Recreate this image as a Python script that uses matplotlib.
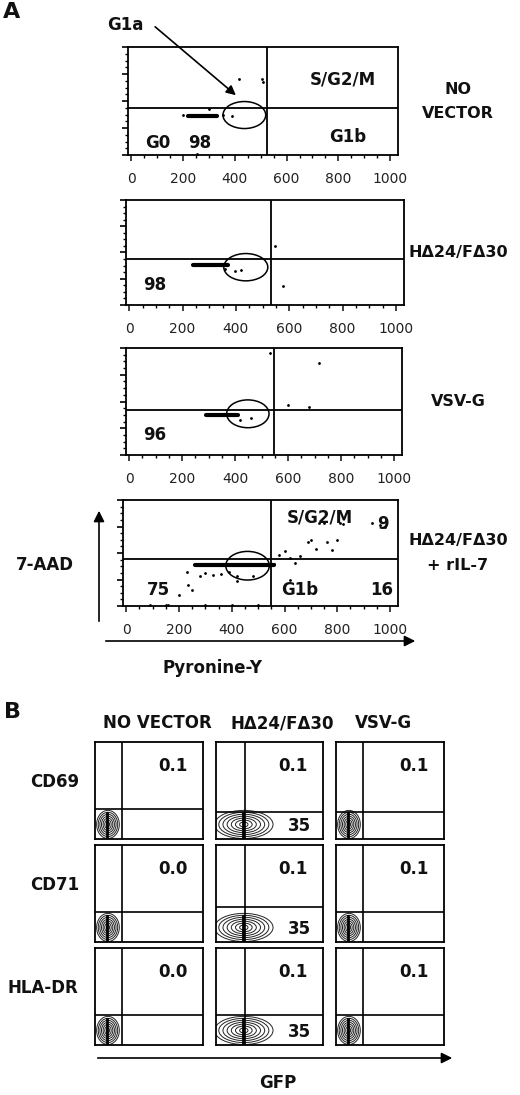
import matplotlib
matplotlib.use('Agg')
import matplotlib.pyplot as plt
from matplotlib.patches import Ellipse
from matplotlib.ticker import MultipleLocator

W, H = 520, 1095
plt.rcParams['font.family'] = ['DejaVu Sans']
BOLD = dict(fontweight='bold', color='#111')

# ---- panel A data (x: Pyronine-Y 0-1000, y: 7-AAD in 0-1000 plot units) ----
a_ticks = [0, 200, 400, 600, 800, 1000]
a_names = [['NO', 'VECTOR'], ['H\u039424/F\u039430'], ['VSV-G'], ['H\u039424/F\u039430', '+ rIL-7']]
a_vline = [525, 530, 545, 550]
a_hline = [435, 440, 420, 440]
a_gate = [(437, 370, 165, 250), (437, 360, 165, 260), (448, 385, 160, 260), (460, 380, 165, 270)]
# cluster spans (x0, x1, y)
a_cluster = [(220, 330, 360), (240, 370, 380), (290, 410, 375), (260, 560, 385)]
a_scatter_x = [
    [200, 355, 390, 415, 505, 510, 300, 255],
    [360, 395, 420, 545, 575],
    [530, 600, 680, 715, 460, 420],
    [200, 230, 235, 250, 280, 300, 330, 360, 390, 420, 560, 580, 600, 620, 640, 660, 690, 700, 720,
     730, 750, 760, 780, 800, 810, 820, 930, 960, 980, 620, 480, 420, 150, 90, 300, 400, 500, 160],
]
a_scatter_y = [
    [370, 375, 360, 700, 700, 680, 430, 10],
    [340, 320, 330, 560, 180],
    [950, 470, 450, 860, 350, 330],
    [100, 320, 200, 150, 280, 310, 290, 300, 320, 280, 400, 480, 520, 450, 410, 470, 600, 620, 540,
     780, 780, 600, 530, 620, 780, 770, 780, 760, 750, 250, 280, 240, 5, 5, 5, 5, 5, 5],
]
a_boxes = [(128, 47, 398, 155), (126, 200, 404, 305), (126, 348, 402, 455), (123, 500, 398, 606)]

# ---- panel B data ----
b_cols = ['NO VECTOR', 'H\u039424/F\u039430', 'VSV-G']
b_rows = ['CD69', 'CD71', 'HLA-DR']
b_upper = [['0.1', '0.1', '0.1'], ['0.0', '0.1', '0.1'], ['0.0', '0.1', '0.1']]
b_lower = [['', '35', ''], ['', '35', ''], ['', '35', '']]
b_vline = [0.25, 0.27, 0.25]
b_hline = [[0.31, 0.28, 0.28], [0.31, 0.36, 0.31], [0.31, 0.31, 0.31]]
b_ring_w = [0.03, 0.06, 0.09, 0.12, 0.15, 0.18, 0.21]
b_ring_h = [0.05, 0.09, 0.13, 0.17, 0.21, 0.25, 0.29]
b_spread = [1.0, 2.6, 1.0]
b_colx = [(95, 203), (216, 323), (336, 444)]
b_rowy = [(742, 839), (845, 942), (948, 1045)]


def add_ax(x0, y0, x1, y1):
    return fig.add_axes([x0 / W, 1 - y1 / H, (x1 - x0) / W, (y1 - y0) / H])


fig = plt.figure(figsize=(W / 100, H / 100), dpi=100)
over = fig.add_axes([0, 0, 1, 1], zorder=10)
over.set_xlim(0, W)
over.set_ylim(H, 0)
over.axis('off')
over.patch.set_alpha(0)

for i, box in enumerate(a_boxes):
    ax = add_ax(*box)
    ax.set_xlim(-12, 1030)
    ax.set_ylim(0, 1000)
    ax.set_xticks(a_ticks)
    ax.xaxis.set_minor_locator(MultipleLocator(50))
    ax.set_yticks([0, 250, 500, 750, 1000])
    ax.set_yticklabels([])
    ax.yaxis.set_minor_locator(MultipleLocator(62.5))
    ax.tick_params(axis='x', labelsize=10, length=4, width=1.2, pad=8, colors='#222')
    ax.tick_params(axis='y', length=4, width=1.2)
    ax.tick_params(which='minor', length=2, width=1)
    for s in ax.spines.values():
        s.set_linewidth(1.3)
    ax.axvline(a_vline[i], color='k', lw=1.3)
    ax.axhline(a_hline[i], color='k', lw=1.3)
    gx, gy, gw, gh = a_gate[i]
    ax.add_patch(Ellipse((gx, gy), gw, gh, fill=False, lw=1.1, ec='k'))
    c0, c1, cy = a_cluster[i]
    ax.plot([c0, c1], [cy, cy], color='k', lw=3, solid_capstyle='round')
    ax.plot(a_scatter_x[i], a_scatter_y[i], 'k.', ms=2)
    names = a_names[i]
    ym = (box[1] + box[3]) / 2
    for j, n in enumerate(names):
        over.text(458, ym - 12 * (len(names) - 1) + 24 * j, n, fontsize=11.5, ha='center', va='center', **BOLD)

over.text(12, 12, 'A', fontsize=16, ha='center', va='center', **BOLD)
over.text(125, 25, 'G1a', fontsize=12, ha='center', va='center', **BOLD)
over.annotate('', xy=(238, 97), xytext=(153, 25),
              arrowprops=dict(arrowstyle='-|>', color='k', lw=1.2, mutation_scale=14))
over.text(343, 80, 'S/G2/M', fontsize=12, ha='center', va='center', **BOLD)
over.text(348, 137, 'G1b', fontsize=12, ha='center', va='center', **BOLD)
over.text(158, 143, 'G0', fontsize=12, ha='center', va='center', **BOLD)
over.text(200, 143, '98', fontsize=12, ha='center', va='center', **BOLD)
over.text(155, 285, '98', fontsize=12, ha='center', va='center', **BOLD)
over.text(155, 435, '96', fontsize=12, ha='center', va='center', **BOLD)
over.text(158, 590, '75', fontsize=12, ha='center', va='center', **BOLD)
over.text(320, 518, 'S/G2/M', fontsize=12, ha='center', va='center', **BOLD)
over.text(383, 524, '9', fontsize=12, ha='center', va='center', **BOLD)
over.text(300, 590, 'G1b', fontsize=12, ha='center', va='center', **BOLD)
over.text(382, 590, '16', fontsize=12, ha='center', va='center', **BOLD)
over.text(45, 565, '7-AAD', fontsize=12, ha='center', va='center', **BOLD)
over.text(213, 668, 'Pyronine-Y', fontsize=12, ha='center', va='center', **BOLD)
over.annotate('', xy=(99, 508), xytext=(99, 624),
              arrowprops=dict(arrowstyle='-|>', color='k', lw=1.2, mutation_scale=16))
over.annotate('', xy=(418, 641), xytext=(103, 641),
              arrowprops=dict(arrowstyle='-|>', color='k', lw=1.2, mutation_scale=16))

# ---- panel B ----
over.text(12, 712, 'B', fontsize=16, ha='center', va='center', **BOLD)
for c, name in enumerate(b_cols):
    over.text([157, 282, 383][c], 723, name, fontsize=12, ha='center', va='center', **BOLD)
for r, name in enumerate(b_rows):
    yr = b_rowy[r]
    over.text([55, 55, 43][r], yr[0] + 40, name, fontsize=12, ha='center', va='center', **BOLD)
    for c in range(3):
        xc = b_colx[c]
        ax = add_ax(xc[0], yr[0], xc[1], yr[1])
        ax.set_xlim(0, 1)
        ax.set_ylim(0, 1)
        ax.set_xticks([])
        ax.set_yticks([])
        for s in ax.spines.values():
            s.set_linewidth(1.3)
        ax.axvline(b_vline[c], color='k', lw=1.2)
        ax.axhline(b_hline[r][c], color='k', lw=1.2)
        sp = b_spread[c]
        cx = 0.12 if sp == 1.0 else 0.26
        for rw, rh in zip(b_ring_w, b_ring_h):
            ax.add_patch(Ellipse((cx, 0.15), rw * sp, rh, fill=False, lw=0.7, ec='#222'))
        ax.plot([cx - 0.01, cx - 0.01], [0.02, 0.27], color='k', lw=2)
        ax.text(0.72, 0.75, b_upper[r][c], fontsize=12, ha='center', va='center', transform=ax.transAxes, **BOLD)
        if b_lower[r][c]:
            ax.text(0.78, 0.13, b_lower[r][c], fontsize=12, ha='center', va='center', transform=ax.transAxes, **BOLD)
over.annotate('', xy=(455, 1058), xytext=(95, 1058),
              arrowprops=dict(arrowstyle='-|>', color='k', lw=1.2, mutation_scale=16))
over.text(278, 1083, 'GFP', fontsize=12, ha='center', va='center', **BOLD)

fig.savefig('out.png', dpi=100)
